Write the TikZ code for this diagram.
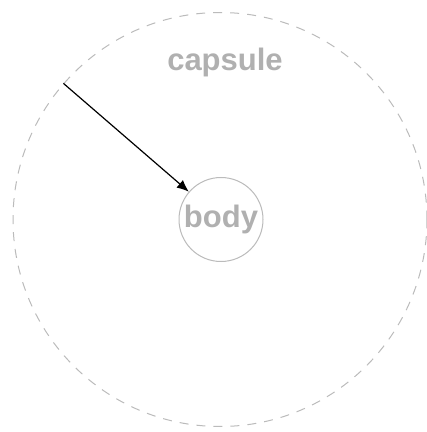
\documentclass[tikz,border=0pt]{standalone}
\usepackage{fontspec}
\setmainfont{Liberation Sans}
\usetikzlibrary{arrows.meta,positioning}
\definecolor{shellgray}{HTML}{BBBBBB}
\definecolor{textgray}{HTML}{B0B0B0}
\begin{document}
\begin{tikzpicture}[x=1pt, y=1pt, >={Latex[length=12pt,width=10pt]},
    shell/.style={circle, draw=shellgray, line width=1pt, dash pattern=on 9pt off 8pt, minimum size=414pt, inner sep=0pt},
    core/.style={circle, draw=shellgray, line width=1pt, minimum size=84pt, inner sep=0pt},
    tag/.style={text=textgray, font=\bfseries\fontsize{31}{34}\selectfont, inner sep=0pt}]
	\useasboundingbox (0,0) rectangle (427,432);
	% outer capsule and inner body
	\node[shell] (capsule) at (220,212.5) {};
	\node[core] (body) at (221,212.5) {};
	\node[tag] (bodytext) at (body.center) {body};
	\node[tag] (capsuletext) at (225,370) {capsule};
	% arrow from capsule wall to body
	\draw[->, line width=1.2pt] (capsule.139) -- (body);
\end{tikzpicture}
\end{document}
